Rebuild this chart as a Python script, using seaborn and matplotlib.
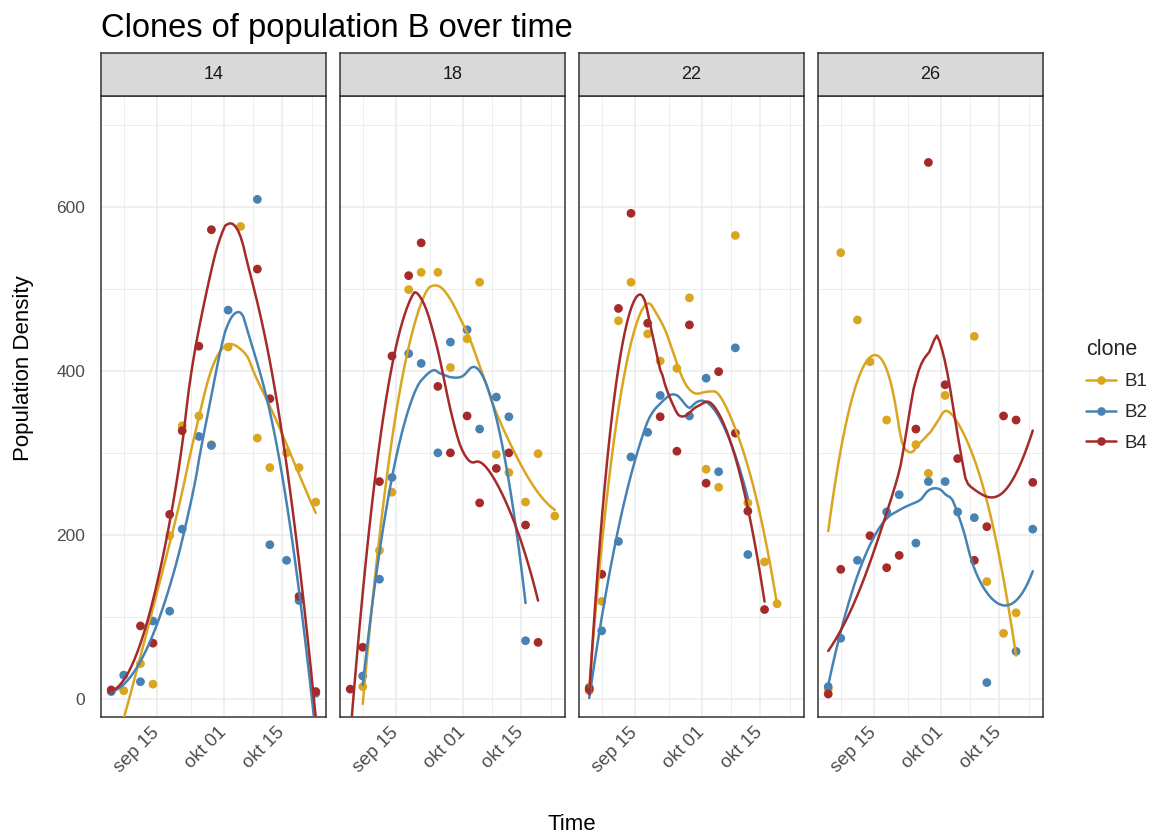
import numpy as np
import pandas as pd
import matplotlib
matplotlib.use("Agg")
import matplotlib.pyplot as plt
import matplotlib.dates as mdates
from matplotlib.lines import Line2D
import seaborn as sns

# Sampling dates (Monday / Thursday)
DATES = ["2017-09-04", "2017-09-07", "2017-09-11", "2017-09-14", "2017-09-18",
         "2017-09-21", "2017-09-25", "2017-09-28", "2017-10-02", "2017-10-05",
         "2017-10-09", "2017-10-12", "2017-10-16", "2017-10-19", "2017-10-23"]
TEMPERATURES = [14, 18, 22, 26]
CLONES = ["B1", "B2", "B4"]
nan = np.nan

# Population density per clone and temperature, one value per sampling date
T14_B1 = [nan, 10, 43, 18, 199, 333, 345, 310, 429, 576, 318, 282, 300, 282, 240]
T14_B2 = [9, 29, 21, 95, 107, 207, 320, 309, 474, nan, 609, 188, 169, 120, 7]
T14_B4 = [11, nan, 89, 68, 225, 327, 430, 572, nan, nan, 524, 366, nan, 125, 9]

T18_B1 = [nan, 15, 181, 252, 499, 520, 520, 404, 439, 508, 298, 276, 240, 299, 223]
T18_B2 = [nan, 28, 146, 270, 421, 409, 300, 435, 450, 329, 368, 344, 71, nan, nan]
T18_B4 = [12, 63, 265, 418, 516, 556, 381, 300, 345, 239, 281, 300, 212, 69, nan]

T22_B1 = [10, 119, 461, 508, 445, 412, 403, 489, 280, 258, 565, 239, 167, 116, nan]
T22_B2 = [14, 83, 192, 295, 325, 370, nan, 345, 391, 277, 428, 176, nan, nan, nan]
T22_B4 = [12, 152, 476, 592, 458, 344, 302, 456, 263, 399, 324, 229, 109, nan, nan]

T26_B1 = [12, 544, 462, 411, 340, nan, 310, 275, 370, nan, 442, 143, 80, 105, nan]
T26_B2 = [15, 74, 169, nan, 228, 249, 190, 265, 265, 228, 221, 20, nan, 58, 207]
T26_B4 = [6, 158, nan, 199, 160, 175, 329, 654, 383, 293, 169, 210, 345, 340, 264]

SERIES = {
    14: {"B1": T14_B1, "B2": T14_B2, "B4": T14_B4},
    18: {"B1": T18_B1, "B2": T18_B2, "B4": T18_B4},
    22: {"B1": T22_B1, "B2": T22_B2, "B4": T22_B4},
    26: {"B1": T26_B1, "B2": T26_B2, "B4": T26_B4},
}

TICK_DATES = ["2017-09-15", "2017-10-01", "2017-10-15"]
MINOR_DATES = ["2017-09-07", "2017-09-23", "2017-10-08", "2017-10-22"]
MONTHS = ["jan", "feb", "mar", "apr", "mai", "jun", "jul", "aug", "sep", "okt", "nov", "des"]

PALETTE = {"B1": "#DAA520", "B2": "#4682B4", "B4": "#A52A2A"}

rows = []
for temp in TEMPERATURES:
    for clone in CLONES:
        for d, v in zip(DATES, SERIES[temp][clone]):
            if not np.isnan(v):
                rows.append({"temp": temp, "clone": clone, "Time": pd.Timestamp(d), "density": v})
df = pd.DataFrame(rows)


def loess(x, y, grid, span=0.75):
    """Local quadratic regression with tricube weights (loess-style bandwidth)."""
    n = len(x)
    q = int(np.floor(n * span))
    fit = []
    for x0 in grid:
        d = np.abs(x - x0)
        ds = np.sort(d)
        h = 0.5 * (ds[q - 1] + ds[q]) if q < n else ds[-1]
        w = np.clip(1 - (d / h) ** 3, 0, None) ** 3
        X = np.column_stack([np.ones(n), x - x0, (x - x0) ** 2])
        sw = np.sqrt(w)
        beta, *_ = np.linalg.lstsq(X * sw[:, None], y * sw, rcond=None)
        fit.append(beta[0])
    return np.array(fit)


smooth_rows = []
for (temp, clone), g in df.groupby(["temp", "clone"]):
    xd = mdates.date2num(g["Time"].values)
    grid = np.linspace(xd.min(), xd.max(), 80)
    fit = loess(xd, g["density"].values.astype(float), grid)
    for gx, fy in zip(grid, fit):
        smooth_rows.append({"temp": temp, "clone": clone,
                            "Time": mdates.num2date(gx).replace(tzinfo=None), "density": fy})
smooth = pd.DataFrame(smooth_rows)

sns.set_theme(style="white")
plt.rcParams["font.family"] = ["Liberation Sans", "DejaVu Sans"]

W, H = 1169, 839
fig = plt.figure(figsize=(W / 100, H / 100), dpi=100)

panel_left = [101, 340, 579, 818]
panel_w = 225
panel_top, panel_bottom = 96, 717
strip_top = 53

x_all = mdates.date2num(pd.to_datetime(DATES))
xr = x_all.max() - x_all.min()
xlim = (x_all.min() - 0.05 * xr, x_all.max() + 0.05 * xr)
ylim = (-22, 735)

grey20 = "#333333"
grid_col = "#EBEBEB"

for i, temp in enumerate(TEMPERATURES):
    ax = fig.add_axes([panel_left[i] / W, 1 - panel_bottom / H,
                       panel_w / W, (panel_bottom - panel_top) / H])
    sub = df[df["temp"] == temp]
    sm = smooth[smooth["temp"] == temp]
    sns.scatterplot(data=sub, x="Time", y="density", hue="clone", palette=PALETTE,
                    hue_order=CLONES, s=40, edgecolor="none", linewidth=0,
                    legend=False, ax=ax, zorder=3)
    sns.lineplot(data=sm, x="Time", y="density", hue="clone", palette=PALETTE,
                 hue_order=CLONES, estimator=None, sort=True, linewidth=1.8,
                 legend=False, ax=ax, zorder=4)
    ax.set_xlim(xlim)
    ax.set_ylim(ylim)
    ax.set_xlabel("")
    ax.set_ylabel("")

    ax.set_xticks(mdates.date2num(pd.to_datetime(TICK_DATES)))
    ax.set_xticks(mdates.date2num(pd.to_datetime(MINOR_DATES)), minor=True)
    ax.xaxis.set_major_formatter(plt.FuncFormatter(
        lambda v, p: "{} {:02d}".format(MONTHS[mdates.num2date(v).month - 1],
                                        mdates.num2date(v).day)))
    ax.set_yticks([0, 200, 400, 600])
    ax.set_yticks([100, 300, 500, 700], minor=True)
    ax.grid(which="major", color=grid_col, linewidth=1.1, zorder=0)
    ax.grid(which="minor", color=grid_col, linewidth=0.6, zorder=0)
    ax.set_axisbelow(True)

    ax.tick_params(axis="x", which="major", length=4.5, width=0.9, color=grey20,
                   labelsize=13.5, labelcolor="#4D4D4D", rotation=45, pad=5)
    for lab in ax.get_xticklabels():
        lab.set_ha("right")
        lab.set_va("center")
        lab.set_rotation_mode("anchor")
    ax.tick_params(axis="x", which="minor", length=0)
    if i == 0:
        ax.tick_params(axis="y", which="major", length=4.5, width=0.9, color=grey20,
                       labelsize=12.5, labelcolor="#4D4D4D", pad=7)
    else:
        ax.tick_params(axis="y", which="major", length=0, labelleft=False)
    ax.tick_params(axis="y", which="minor", length=0)
    for s in ax.spines.values():
        s.set_visible(True)
        s.set_color(grey20)
        s.set_linewidth(1.1)

    # facet strip
    sax = fig.add_axes([panel_left[i] / W, 1 - panel_top / H,
                        panel_w / W, (panel_top - strip_top) / H])
    sax.set_facecolor("#D9D9D9")
    sax.set_xticks([])
    sax.set_yticks([])
    for s in sax.spines.values():
        s.set_color(grey20)
        s.set_linewidth(1.1)
    sax.text(0.5, 0.5, str(temp), ha="center", va="center", fontsize=13,
             color="#1A1A1A", transform=sax.transAxes)

fig.text(101 / W, 1 - 28 / H, "Clones of population B over time", fontsize=23.5,
         ha="left", va="center", color="black")
fig.text(572 / W, 1 - 824 / H, "Time", fontsize=16, ha="center", va="center", color="black")
fig.text(24 / W, 1 - 368 / H, "Population Density", fontsize=16, ha="center",
         va="center", rotation=90, color="black")

handles = [Line2D([0], [0], color=PALETTE[c], lw=1.8, marker="o", markersize=6.2,
                  markeredgewidth=0) for c in CLONES]
leg = fig.legend(handles, CLONES, title="clone", loc="upper left",
                 bbox_to_anchor=(1069 / W, 1 - 322 / H), frameon=False,
                 fontsize=13.5, title_fontsize=15.5, handlelength=1.6,
                 labelspacing=0.72, alignment="left", handletextpad=0.45)

fig.savefig("out.png", dpi=100)
